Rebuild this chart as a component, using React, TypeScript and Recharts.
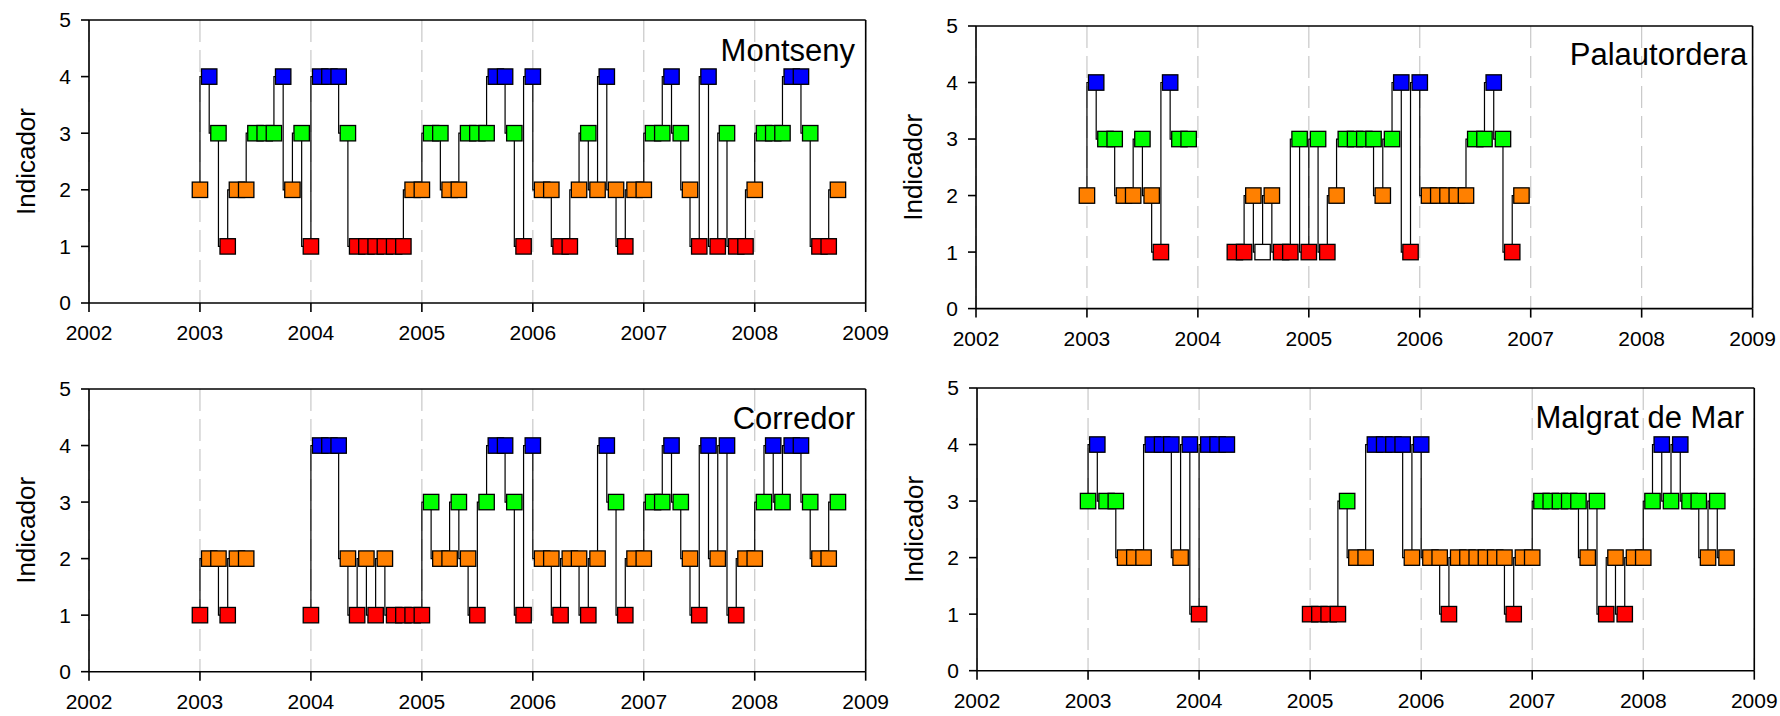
import { CartesianGrid, Label, Line, LineChart, ReferenceLine, XAxis, YAxis } from "recharts"

const YEAR_TICKS = [2002, 2003, 2004, 2005, 2006, 2007, 2008, 2009]
const LEVEL_TICKS = [0, 1, 2, 3, 4, 5]
const FIRST_YEAR = 2003

// Monthly indicator per site, one entry per month from January 2003 (null = no sample)
const montseny = [
  2, 4, 3, 1, 2, 2, 3, 3, 3, 4, 2, 3,
  1, 4, 4, 4, 3, 1, 1, 1, 1, 1, 1, 2,
  2, 3, 3, 2, 2, 3, 3, 3, 4, 4, 3, 1,
  4, 2, 2, 1, 1, 2, 3, 2, 4, 2, 1, 2,
  2, 3, 3, 4, 3, 2, 1, 4, 1, 3, 1, 1,
  2, 3, 3, 3, 4, 4, 3, 1, 1, 2,
]

const palautordera = [
  2, 4, 3, 3, 2, 2, 3, 2, 1, 4, 3, 3,
  null, null, null, null, 1, 1, 2, 1, 2, 1, 1, 3,
  1, 3, 1, 2, 3, 3, 3, 3, 2, 3, 4, 1,
  4, 2, 2, 2, 2, 2, 3, 3, 4, 3, 1, 2,
]
// months drawn as open (white) markers
const palautorderaOpen = [19]

const corredor = [
  1, 2, 2, 1, 2, 2, null, null, null, null, null, null,
  1, 4, 4, 4, 2, 1, 2, 1, 2, 1, 1, 1,
  1, 3, 2, 2, 3, 2, 1, 3, 4, 4, 3, 1,
  4, 2, 2, 1, 2, 2, 1, 2, 4, 3, 1, 2,
  2, 3, 3, 4, 3, 2, 1, 4, 2, 4, 1, 2,
  2, 3, 4, 3, 4, 4, 3, 2, 2, 3,
]

const malgrat = [
  3, 4, 3, 3, 2, 2, 2, 4, 4, 4, 2, 4,
  1, 4, 4, 4, null, null, null, null, null, null, null, null,
  1, 1, 1, 1, 3, 2, 2, 4, 4, 4, 4, 2,
  4, 2, 2, 1, 2, 2, 2, 2, 2, 2, 1, 2,
  2, 3, 3, 3, 3, 3, 2, 3, 1, 2, 1, 2,
  2, 3, 4, 3, 4, 3, 3, 2, 3, 2,
]

const LEVEL_COLORS: Record<number, string> = {
  1: "#ff0000",
  2: "#ff8000",
  3: "#00ff00",
  4: "#0000ff",
}

const FONT = "'Liberation Sans', Arial, Helvetica, sans-serif"
const AXIS_W = 80
const MARGIN = { top: 20, right: 32, bottom: 6, left: 10 }
const X_AXIS_H = 50
const BOX = 15.4

type Panel = {
  name: string
  values: (number | null)[]
  open: number[]
  // plot area in page pixels
  left: number
  top: number
  right: number
  bottom: number
  titleDx: number
  titleDy: number
}

const panels: Panel[] = [
  { name: "Montseny", values: montseny, open: [], left: 89.3, top: 20, right: 866, bottom: 303, titleDx: -11, titleDy: 41 },
  { name: "Palautordera", values: palautordera, open: palautorderaOpen, left: 975.7, top: 25.7, right: 1752.3, bottom: 308.3, titleDx: -5, titleDy: 39 },
  { name: "Corredor", values: corredor, open: [], left: 89.3, top: 389, right: 866, bottom: 671.7, titleDx: -11, titleDy: 40 },
  { name: "Malgrat de Mar", values: malgrat, open: [], left: 976.7, top: 388, right: 1754, bottom: 670.7, titleDx: -10, titleDy: 40 },
]

const toRows = (values: (number | null)[]) =>
  values.map((v, i) => ({ x: FIRST_YEAR + i / 12, v }))

const squareDot = (open: number[]) => (props: any) => {
  const { cx, cy, index, payload } = props
  if (payload?.v == null || cx == null || cy == null) return <g key={`e${index}`} />
  const fill = open.includes(index) ? "#ffffff" : LEVEL_COLORS[payload.v]
  return (
    <rect
      key={`d${index}`}
      x={cx - BOX / 2}
      y={cy - BOX / 2}
      width={BOX}
      height={BOX}
      fill={fill}
      stroke="#000"
      strokeWidth={1.3}
    />
  )
}

function SiteChart({ panel }: { panel: Panel }) {
  const width = panel.right - panel.left + AXIS_W + MARGIN.left + MARGIN.right
  const height = panel.bottom - panel.top + MARGIN.top + X_AXIS_H + MARGIN.bottom
  return (
    <div style={{ position: "absolute", left: panel.left - AXIS_W - MARGIN.left, top: panel.top - MARGIN.top }}>
      <LineChart width={width} height={height} data={toRows(panel.values)} margin={MARGIN}>
        <CartesianGrid horizontal={false} stroke="#c8c8c8" strokeWidth={1.2} strokeDasharray="22 8" />
        <XAxis
          type="number"
          dataKey="x"
          domain={[2002, 2009]}
          ticks={YEAR_TICKS}
          interval={0}
          height={X_AXIS_H}
          tickSize={9}
          tickMargin={13}
          axisLine={{ stroke: "#000", strokeWidth: 1.6 }}
          tickLine={{ stroke: "#000", strokeWidth: 1.6 }}
          tick={{ fill: "#000", fontSize: 21 }}
        />
        <YAxis
          type="number"
          domain={[0, 5]}
          ticks={LEVEL_TICKS}
          interval={0}
          width={AXIS_W}
          tickSize={8}
          tickMargin={10}
          axisLine={{ stroke: "#000", strokeWidth: 1.6 }}
          tickLine={{ stroke: "#000", strokeWidth: 1.6 }}
          tick={{ fill: "#000", fontSize: 21 }}
        >
          <Label
            value="Indicador"
            angle={-90}
            position="insideLeft"
            offset={17}
            fill="#000"
            fontSize={26}
            style={{ textAnchor: "middle" }}
          />
        </YAxis>
        <ReferenceLine y={5} stroke="#000" strokeWidth={1.6} />
        <ReferenceLine x={2009} stroke="#000" strokeWidth={1.6} />
        <Line
          type="stepBefore"
          dataKey="v"
          stroke="#000"
          strokeWidth={1.2}
          dot={squareDot(panel.open)}
          activeDot={false}
          connectNulls={false}
          isAnimationActive={false}
        />
      </LineChart>
    </div>
  )
}

export default function App() {
  return (
    <div
      style={{
        position: "absolute",
        left: 0,
        top: 0,
        width: 1780,
        height: 716,
        background: "#fff",
        fontFamily: FONT,
        overflow: "hidden",
      }}
    >
      {panels.map((p) => (
        <SiteChart key={p.name} panel={p} />
      ))}
      <svg width={1780} height={716} style={{ position: "absolute", left: 0, top: 0, pointerEvents: "none" }}>
        {panels.map((p) => (
          <text
            key={p.name}
            x={p.right + p.titleDx}
            y={p.top + p.titleDy}
            textAnchor="end"
            fontSize={31}
            fontFamily={FONT}
            fill="#000"
          >
            {p.name}
          </text>
        ))}
      </svg>
    </div>
  )
}
